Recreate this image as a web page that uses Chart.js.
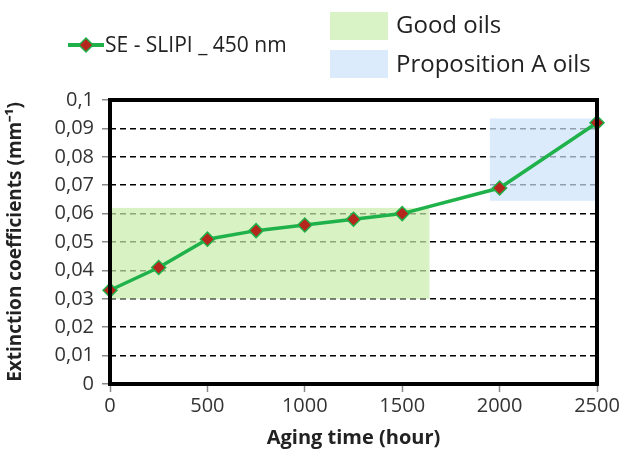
<!DOCTYPE html>
<html><head><meta charset="utf-8">
<script src="https://cdn.jsdelivr.net/npm/chart.js@4/dist/chart.umd.min.js"></script>
<style>
html,body{margin:0;padding:0;background:#fff;}
#wrap{position:relative;width:624px;height:454px;}
canvas{position:absolute;left:0;top:0;}
.lg{position:absolute;font-family:"Open Sans",sans-serif;color:#222;white-space:nowrap;line-height:1;}
</style></head>
<body>
<div id="wrap">
<canvas id="c" width="624" height="454"></canvas>
<div class="lg" style="left:68px;top:34px;font-size:21px;display:flex;align-items:center;">
  <svg width="36" height="20" style="margin-right:1px"><line x1="0" y1="10" x2="36" y2="10" stroke="#1fb24a" stroke-width="4"/><polygon points="18,3 25,10 18,17 11,10" fill="#b5261c" stroke="#1fb24a" stroke-width="1.5"/></svg>
  <span>SE - SLIPI _ 450 nm</span>
</div>
<div style="position:absolute;left:330px;top:12px;width:58px;height:28px;background:#d9f2c6"></div>
<div style="position:absolute;left:330px;top:50px;width:58px;height:28px;background:#dcebfb"></div>
<div class="lg" style="left:396px;top:12px;font-size:24px;">Good oils</div>
<div class="lg" style="left:396px;top:51px;font-size:24px;">Proposition A oils</div>
</div>
<script>
const agingHours = [0, 250, 500, 750, 1000, 1250, 1500, 2000, 2500];
const extinction = [0.033, 0.041, 0.051, 0.054, 0.056, 0.058, 0.060, 0.069, 0.092];
const goodOilsX = [0, 1640];
const goodOilsY = [0.030, 0.062];
const propAX = [1950, 2500];
const propAY = [0.0645, 0.0935];
const yTickLabels = ['0','0,01','0,02','0,03','0,04','0,05','0,06','0,07','0,08','0,09','0,1'];
const xTickLabels = ['0','500','1000','1500','2000','2500'];

const FONT = '"Open Sans", sans-serif';

const boxes = {
  id: 'boxes',
  beforeDatasetsDraw(chart) {
    const {ctx, scales:{x, y}} = chart;
    const draw = (xs, ys, col) => {
      const x0 = x.getPixelForValue(xs[0]), x1 = x.getPixelForValue(xs[1]);
      const y0 = y.getPixelForValue(ys[1]), y1 = y.getPixelForValue(ys[0]);
      ctx.save(); ctx.fillStyle = col; ctx.fillRect(x0, y0, x1 - x0, y1 - y0); ctx.restore();
    };
    draw(goodOilsX, goodOilsY, 'rgba(200,236,170,0.7)');
    draw(propAX, propAY, 'rgba(205,226,250,0.7)');
  }
};
const frame = {
  id: 'frame',
  afterDatasetsDraw(chart) {
    const {ctx, chartArea:a} = chart;
    ctx.save();
    ctx.strokeStyle = '#000';
    ctx.lineWidth = 4;
    ctx.strokeRect(a.left, a.top, a.right - a.left, a.bottom - a.top);
    ctx.restore();
  }
};

new Chart(document.getElementById('c'), {
  type: 'line',
  data: {
    datasets: [{
      label: 'SE - SLIPI _ 450 nm',
      data: agingHours.map((h, i) => ({x: h, y: extinction[i]})),
      borderColor: '#1fb24a',
      borderWidth: 3.5,
      pointStyle: 'rectRot',
      pointRadius: 7,
      pointHoverRadius: 7,
      pointBackgroundColor: '#b5261c',
      pointBorderColor: '#1fb24a',
      pointBorderWidth: 1.5,
      tension: 0,
      clip: false
    }]
  },
  options: {
    responsive: false,
    animation: false,
    events: [],
    layout: {padding: {top: 100, right: 27, left: 0, bottom: 0}},
    plugins: {legend: {display: false}, tooltip: {enabled: false}},
    scales: {
      x: {
        type: 'linear', min: 0, max: 2500,
        afterFit(s){ s.height = 70; },
        afterBuildTicks(s){ s.ticks = xTickLabels.map(v => ({value: +v})); },
        ticks: {
          callback: (v, i) => xTickLabels[i],
          font: {family: FONT, size: 20}, color: '#333', padding: 2, maxRotation: 0
        },
        grid: {drawOnChartArea: false, drawTicks: true, tickLength: 8, tickColor: '#888', tickWidth: 1.5},
        border: {display: false},
        title: {display: true, text: 'Aging time (hour)', font: {family: FONT, size: 20, weight: 'bold'}, color: '#222', padding: {top: -4}}
      },
      y: {
        type: 'linear', min: 0, max: 0.1,
        afterFit(s){ s.width = 110; },
        afterBuildTicks(s){ s.ticks = yTickLabels.map((t, i) => ({value: i / 100})); },
        ticks: {
          callback: (v, i) => yTickLabels[i],
          font: {family: FONT, size: 20}, color: '#333', padding: 8
        },
        grid: {color: '#000', lineWidth: 1.5, tickBorderDash: [], tickColor: '#888', tickLength: 8, tickWidth: 1.5},
        border: {display: false, dash: [6, 4]},
        title: {display: true, text: 'Extinction coefficients (mm⁻¹)', font: {family: FONT, size: 19, weight: 'bold'}, color: '#222', padding: {bottom: 0}}
      }
    }
  },
  plugins: [boxes, frame]
});
</script>
</body></html>
